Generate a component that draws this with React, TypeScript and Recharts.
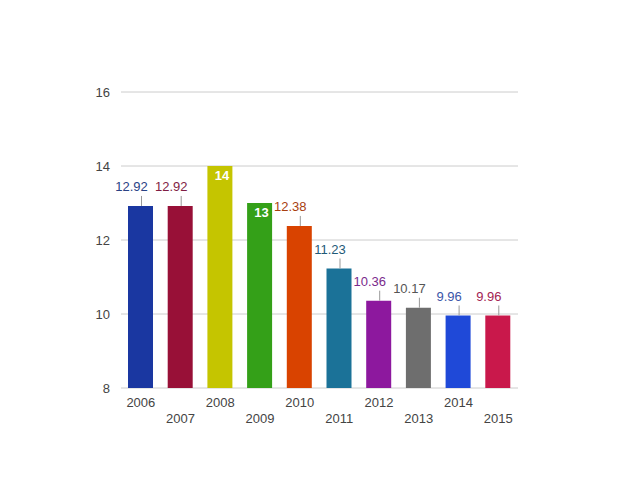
import React from "react"
import { BarChart, Bar, XAxis, YAxis, CartesianGrid, Cell } from "recharts"

const years = ["2006", "2007", "2008", "2009", "2010", "2011", "2012", "2013", "2014", "2015"]
const values = [12.92, 12.92, 14, 13, 12.38, 11.23, 10.36, 10.17, 9.96, 9.96]
const barColors = [
  "#1a37a1", "#981037", "#c5c500", "#34a018", "#d94300",
  "#1b7298", "#8d189e", "#6e6e6e", "#1f49d8", "#c9184b",
]
const labelColors = [
  "#2a4284", "#7f1d44", "#ffffff", "#ffffff", "#a8400f",
  "#1f5a78", "#7a2a8c", "#555555", "#3b55a8", "#a32352",
]
const insideLabelYears = ["2008", "2009"]
const yTicks = [8, 10, 12, 14, 16]

const data = years.map((year, i) => ({ year, value: values[i] }))

const FONT = "Arial, 'Liberation Sans', sans-serif"

function StaggeredTick(props: any) {
  const { x, y, payload, index } = props
  const dy = index % 2 === 0 ? 10.5 : 26.5
  return (
    <text x={x} y={y + dy} textAnchor="middle" fill="#444" fontSize={13} fontFamily={FONT}>
      {payload.value}
    </text>
  )
}

function Annotation(props: any) {
  const { x, y, width, index } = props
  const cx = x + width / 2
  const inside = insideLabelYears.includes(years[index])
  if (inside) {
    return (
      <text x={cx + 2} y={y + 14} textAnchor="middle" fill={labelColors[index]}
        fontSize={13} fontWeight="bold" fontFamily={FONT}>
        {values[index]}
      </text>
    )
  }
  return (
    <g>
      <line x1={cx + 1} x2={cx + 1} y1={y} y2={y - 10} stroke="#999" strokeWidth={1} />
      <text x={cx - 9} y={y - 14.5} textAnchor="middle" fill={labelColors[index]}
        fontSize={13} fontFamily={FONT}>
        {values[index]}
      </text>
    </g>
  )
}

export default function App() {
  return (
    <div style={{ position: "absolute", left: 0, top: 0, width: 640, height: 480, background: "#fff" }}>
      <BarChart
        width={640}
        height={480}
        data={data}
        margin={{ top: 92, right: 122, bottom: 62, left: 0 }}
        barSize={25}
      >
        <CartesianGrid horizontal vertical={false} stroke="#cccccc" strokeDasharray="" />
        <XAxis
          dataKey="year"
          tickLine={false}
          axisLine={false}
          interval={0}
          height={30}
          tick={<StaggeredTick />}
        />
        <YAxis
          width={121}
          domain={[8, 16]}
          ticks={yTicks}
          allowDataOverflow
          tickLine={false}
          axisLine={false}
          tickMargin={5}
          tick={{ fill: "#444", fontSize: 13, fontFamily: FONT }}
        />
        <Bar dataKey="value" isAnimationActive={false} label={(p: any) => <Annotation {...p} />}>
          {data.map((d, i) => (
            <Cell key={d.year} fill={barColors[i]} />
          ))}
        </Bar>
      </BarChart>
    </div>
  )
}
